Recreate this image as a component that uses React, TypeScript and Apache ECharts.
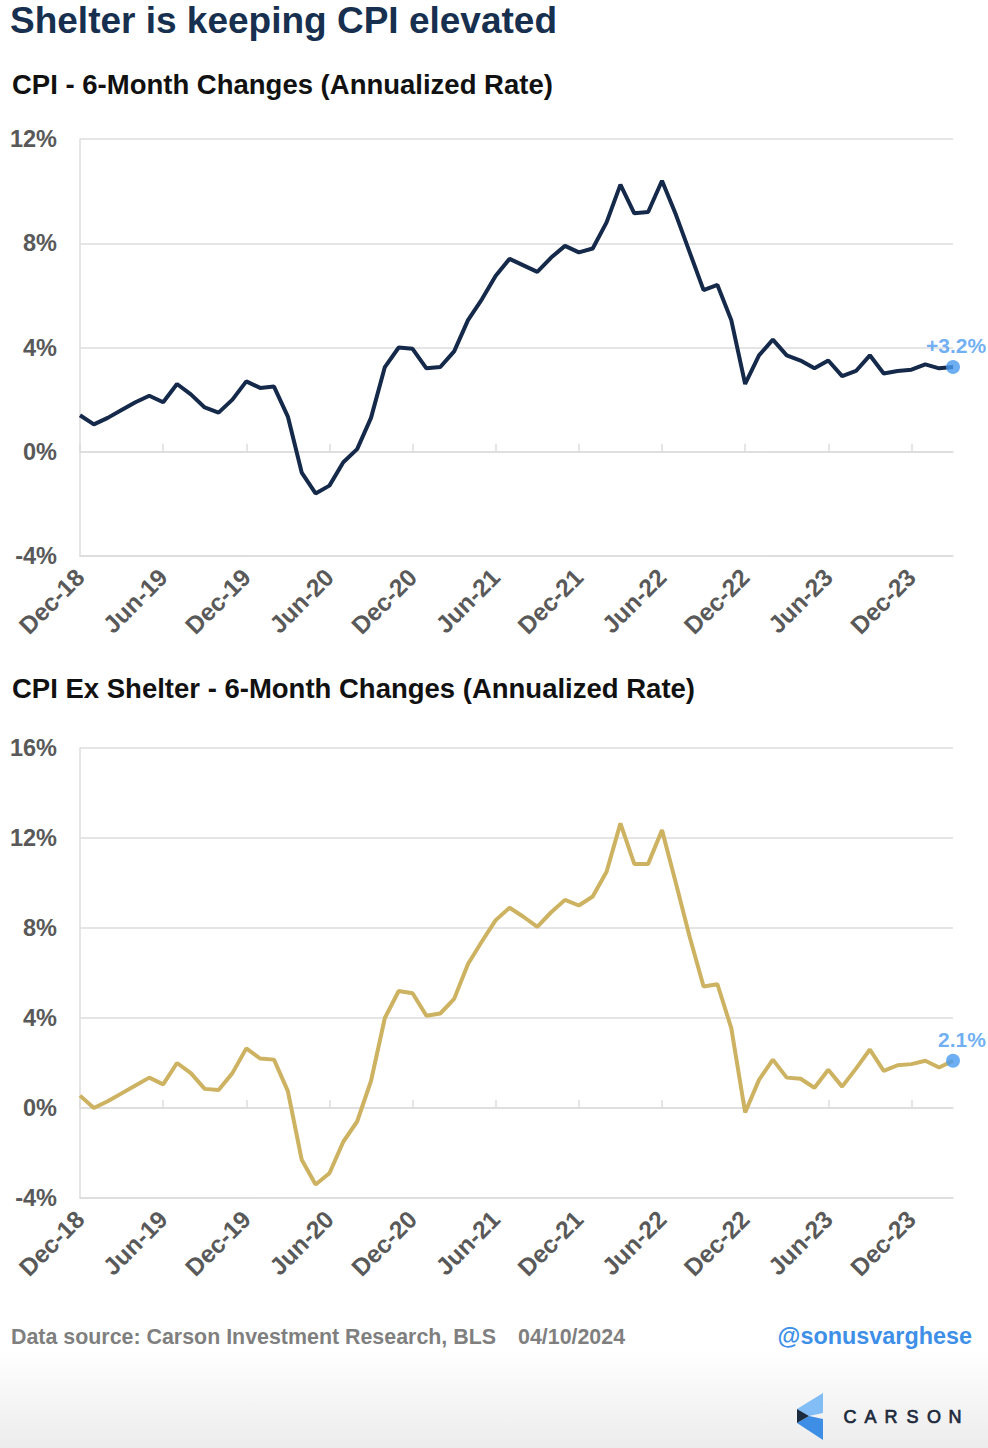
import React, { useEffect, useRef } from "react";
import * as echarts from "echarts";

const MONTHS = ["Jan", "Feb", "Mar", "Apr", "May", "Jun", "Jul", "Aug", "Sep", "Oct", "Nov", "Dec"];
// Dec-18 .. Mar-24, monthly
const categories: string[] = (() => {
  const out: string[] = [];
  let m = 11;
  let y = 18;
  for (let k = 0; k < 64; k++) {
    out.push(`${MONTHS[m]}-${y}`);
    m++;
    if (m === 12) { m = 0; y++; }
  }
  return out;
})();

const cpiValues = [
  1.4, 1.05, 1.3, 1.6, 1.9, 2.15, 1.9, 2.6, 2.2, 1.7, 1.5, 2.0,
  2.7, 2.45, 2.5, 1.35, -0.8, -1.6, -1.3, -0.4, 0.1, 1.3, 3.25, 4.0,
  3.95, 3.2, 3.25, 3.85, 5.05, 5.85, 6.75, 7.4, 7.15, 6.9, 7.45, 7.9,
  7.65, 7.8, 8.8, 10.25, 9.15, 9.2, 10.4, 9.1, 7.65, 6.2, 6.4, 5.05,
  2.6, 3.7, 4.3, 3.7, 3.5, 3.2, 3.5, 2.9, 3.1, 3.7, 3.0, 3.1,
  3.15, 3.35, 3.2, 3.25,
];

const exShelterValues = [
  0.55, 0.0, 0.3, 0.65, 1.0, 1.35, 1.05, 2.0, 1.55, 0.85, 0.8, 1.55,
  2.65, 2.2, 2.15, 0.75, -2.3, -3.4, -2.9, -1.5, -0.6, 1.2, 4.0, 5.2,
  5.1, 4.1, 4.2, 4.85, 6.4, 7.4, 8.35, 8.9, 8.5, 8.05, 8.7, 9.25,
  9.0, 9.4, 10.5, 12.65, 10.85, 10.85, 12.35, 10.0, 7.6, 5.4, 5.5, 3.55,
  -0.2, 1.25, 2.15, 1.35, 1.3, 0.9, 1.7, 0.95, 1.75, 2.6, 1.65, 1.9,
  1.95, 2.1, 1.8, 2.1,
];

const cpiAxis = { min: -4, max: 12, interval: 4 };
const exAxis = { min: -4, max: 16, interval: 4 };
const cpiLastLabel = "+3.2%";
const exLastLabel = "2.1%";

const FONT = '"Liberation Sans", Arial, sans-serif';
const GRID_COLOR = "#dcdcdc";
const LABEL_COLOR = "#595959";
const BLUE = "#4a9bf0";

export default function App() {
  const ref = useRef<HTMLDivElement>(null);
  useEffect(() => {
    if (!ref.current) return;
    const chart = echarts.init(ref.current, undefined, { renderer: "svg" });

    const xLabelAxis = (gridIndex: number) => ({
      type: "category",
      gridIndex,
      data: categories,
      boundaryGap: false,
      position: "bottom",
      axisLine: { onZero: false, lineStyle: { color: GRID_COLOR, width: 1.5 } },
      axisTick: { show: false },
      splitLine: { show: false },
      axisLabel: {
        interval: 5,
        rotate: 45,
        margin: 17,
        fontSize: 24.5,
        fontWeight: "bold",
        fontFamily: FONT,
        color: LABEL_COLOR,
      },
    });
    const xZeroAxis = (gridIndex: number) => ({
      type: "category",
      gridIndex,
      data: categories,
      boundaryGap: false,
      position: "bottom",
      axisLine: { show: true, onZero: true, lineStyle: { color: GRID_COLOR, width: 1.5 } },
      axisTick: { show: true, inside: true, interval: 5, length: 8, lineStyle: { color: GRID_COLOR, width: 1.5 } },
      axisLabel: { show: false },
      splitLine: { show: false },
    });
    const yAxis = (gridIndex: number, a: { min: number; max: number; interval: number }) => ({
      type: "value",
      gridIndex,
      min: a.min,
      max: a.max,
      interval: a.interval,
      axisLine: { show: true, lineStyle: { color: GRID_COLOR, width: 1.5 } },
      axisTick: { show: false },
      splitLine: { show: true, lineStyle: { color: GRID_COLOR, width: 1.5 } },
      axisLabel: {
        formatter: "{value}%",
        margin: 23,
        fontSize: 23.5,
        fontWeight: "bold",
        fontFamily: FONT,
        color: LABEL_COLOR,
      },
    });

    const last = categories.length - 1;

    const option: any = {
      animation: false,
      backgroundColor: "#ffffff",
      grid: [
        { left: 80, top: 139, width: 873, height: 417 },
        { left: 80, top: 748, width: 873, height: 450 },
      ],
      xAxis: [xLabelAxis(0), xZeroAxis(0), xLabelAxis(1), xZeroAxis(1)],
      yAxis: [yAxis(0, cpiAxis), yAxis(1, exAxis)],
      series: [
        {
          type: "line",
          xAxisIndex: 0,
          yAxisIndex: 0,
          data: cpiValues,
          showSymbol: false,
          clip: false,
          lineStyle: { color: "#15294a", width: 4 },
          itemStyle: { color: "#15294a" },
          z: 3,
        },
        {
          type: "scatter",
          xAxisIndex: 0,
          yAxisIndex: 0,
          data: [[categories[last], cpiValues[last]]],
          symbolSize: 14,
          clip: false,
          itemStyle: { color: BLUE },
          label: {
            show: true,
            position: "top",
            distance: 4,
            offset: [3, 0],
            formatter: cpiLastLabel,
            fontSize: 21,
            fontWeight: "bold",
            fontFamily: FONT,
            color: BLUE,
          },
          z: 4,
        },
        {
          type: "line",
          xAxisIndex: 2,
          yAxisIndex: 1,
          data: exShelterValues,
          showSymbol: false,
          clip: false,
          lineStyle: { color: "#cdb262", width: 4 },
          itemStyle: { color: "#cdb262" },
          z: 3,
        },
        {
          type: "scatter",
          xAxisIndex: 2,
          yAxisIndex: 1,
          data: [[categories[last], exShelterValues[last]]],
          symbolSize: 14,
          clip: false,
          itemStyle: { color: BLUE },
          label: {
            show: true,
            position: "top",
            distance: 4,
            offset: [9, 0],
            formatter: exLastLabel,
            fontSize: 21,
            fontWeight: "bold",
            fontFamily: FONT,
            color: BLUE,
          },
          z: 4,
        },
      ],
      graphic: [
        {
          type: "rect",
          z: -10,
          silent: true,
          shape: { x: 0, y: 1350, width: 988, height: 98 },
          style: {
            fill: new echarts.graphic.LinearGradient(0, 0, 0, 1, [
              { offset: 0, color: "#ffffff" },
              { offset: 1, color: "#ececec" },
            ]),
          },
        },
        {
          type: "text",
          x: 10,
          y: 20,
          style: { text: "Shelter is keeping CPI elevated", fill: "#18304f", font: `bold 37px ${FONT}`, verticalAlign: "middle" },
        },
        {
          type: "text",
          x: 12,
          y: 84,
          style: { text: "CPI - 6-Month Changes (Annualized Rate)", fill: "#111111", font: `bold 27.5px ${FONT}`, verticalAlign: "middle" },
        },
        {
          type: "text",
          x: 12,
          y: 688,
          style: { text: "CPI Ex Shelter - 6-Month Changes (Annualized Rate)", fill: "#111111", font: `bold 27.5px ${FONT}`, verticalAlign: "middle" },
        },
        {
          type: "text",
          x: 11,
          y: 1337,
          style: { text: "Data source: Carson Investment Research, BLS", fill: "#7f7f7f", font: `bold 21.4px ${FONT}`, verticalAlign: "middle" },
        },
        {
          type: "text",
          x: 518,
          y: 1337,
          style: { text: "04/10/2024", fill: "#7f7f7f", font: `bold 21.4px ${FONT}`, verticalAlign: "middle" },
        },
        {
          type: "text",
          x: 972,
          y: 1336,
          style: { text: "@sonusvarghese", fill: "#3d8fe8", font: `bold 23.4px ${FONT}`, align: "right", verticalAlign: "middle" },
        },
        // Carson logo
        {
          type: "polygon",
          shape: { points: [[823, 1393], [823, 1413], [809, 1416], [797, 1409]] },
          style: { fill: "#82bdf6" },
        },
        {
          type: "polygon",
          shape: { points: [[797, 1423], [809, 1416], [823, 1419], [823, 1440]] },
          style: { fill: "#3f8ee6" },
        },
        {
          type: "polygon",
          shape: { points: [[797, 1409], [809, 1416], [797, 1423]] },
          style: { fill: "#1b2b40" },
        },
        ...["C", "A", "R", "S", "O", "N"].map((ch, i) => ({
          type: "text",
          x: [850, 870.5, 891, 912.5, 934, 955][i],
          y: 1417,
          style: {
            text: ch,
            fill: "#1d2a3c",
            stroke: "#1d2a3c",
            lineWidth: 0.7,
            font: `18px ${FONT}`,
            align: "center",
            verticalAlign: "middle",
          },
        })),
      ],
    };

    chart.setOption(option);
    return () => chart.dispose();
  }, []);

  return (
    <div
      ref={ref}
      style={{ position: "absolute", left: 0, top: 0, width: 988, height: 1448 }}
    />
  );
}
